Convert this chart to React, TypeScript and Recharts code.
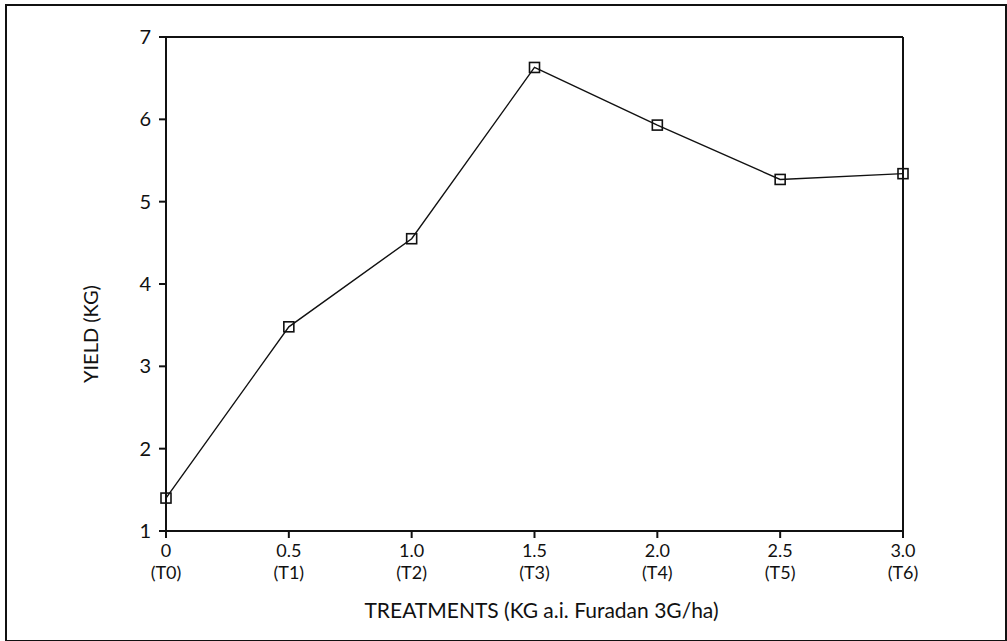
import {
  LineChart,
  Line,
  XAxis,
  YAxis,
  ReferenceLine,
} from 'recharts';

const X_TICKS = [0, 0.5, 1.0, 1.5, 2.0, 2.5, 3.0];
const DOSE_LABELS = ['0', '0.5', '1.0', '1.5', '2.0', '2.5', '3.0'];
const TREATMENT_LABELS = ['(T0)', '(T1)', '(T2)', '(T3)', '(T4)', '(T5)', '(T6)'];
const YIELD_KG = [1.4, 3.48, 4.55, 6.63, 5.93, 5.27, 5.34];
const Y_TICKS = [1, 2, 3, 4, 5, 6, 7];

const FONT = 'Lato, "DejaVu Sans", sans-serif';
const INK = '#111';

const data = X_TICKS.map((dose, i) => ({ dose, yield: YIELD_KG[i] }));

function DoseTick(props: any) {
  const { x, y, payload } = props;
  const i = X_TICKS.indexOf(payload.value);
  return (
    <g>
      <text x={x} y={y + 17} textAnchor="middle" fontSize={18} fill={INK} fontFamily={FONT}>
        {DOSE_LABELS[i]}
      </text>
      <text x={x} y={y + 39} textAnchor="middle" fontSize={18} fill={INK} fontFamily={FONT}>
        {TREATMENT_LABELS[i]}
      </text>
    </g>
  );
}

function SquareDot(props: any) {
  const { cx, cy } = props;
  if (cx == null || cy == null) return null;
  return (
    <rect
      x={cx - 5}
      y={cy - 5}
      width={10}
      height={10}
      fill="none"
      stroke={INK}
      strokeWidth={1.6}
    />
  );
}

function YieldLabel(props: any) {
  const { viewBox } = props;
  const cx = viewBox.x + 30;
  const cy = viewBox.y + viewBox.height / 2 + 50;
  return (
    <text
      x={cx}
      y={cy}
      transform={`rotate(-90 ${cx} ${cy})`}
      textAnchor="middle"
      dominantBaseline="central"
      fontSize={20}
      fill={INK}
      fontFamily={FONT}
    >
      YIELD (KG)
    </text>
  );
}

export default function App() {
  return (
    <div style={{ position: 'absolute', left: 0, top: 0, width: 1007, height: 641, background: '#fff' }}>
      <div
        style={{
          position: 'absolute',
          left: 5,
          top: 4,
          width: 998,
          height: 634,
          border: `2px solid ${INK}`,
        }}
      />
      <LineChart
        width={1007}
        height={641}
        data={data}
        margin={{ top: 37, right: 104, left: 60, bottom: 0 }}
      >
        <XAxis
          dataKey="dose"
          type="number"
          domain={[0, 3]}
          ticks={X_TICKS}
          interval={0}
          height={110}
          tickSize={7}
          tickMargin={2}
          tick={<DoseTick />}
          axisLine={{ stroke: INK, strokeWidth: 2 }}
          tickLine={{ stroke: INK, strokeWidth: 2 }}
          label={{
            value: 'TREATMENTS (KG a.i. Furadan 3G/ha)',
            position: 'insideBottom',
            offset: 23,
            dx: 7,
            fontSize: 21,
            fill: INK,
            fontFamily: FONT,
          }}
        />
        <YAxis
          type="number"
          domain={[1, 7]}
          ticks={Y_TICKS}
          interval={0}
          width={106}
          tickSize={7}
          tickMargin={8}
          tick={{ fontSize: 20, fill: INK, fontFamily: FONT }}
          axisLine={{ stroke: INK, strokeWidth: 2 }}
          tickLine={{ stroke: INK, strokeWidth: 2 }}
          label={<YieldLabel />}
        />
        <ReferenceLine y={7} stroke={INK} strokeWidth={2} />
        <ReferenceLine x={3} stroke={INK} strokeWidth={2} />
        <Line
          type="linear"
          dataKey="yield"
          stroke={INK}
          strokeWidth={1.4}
          dot={<SquareDot />}
          activeDot={false}
          isAnimationActive={false}
        />
      </LineChart>
    </div>
  );
}
